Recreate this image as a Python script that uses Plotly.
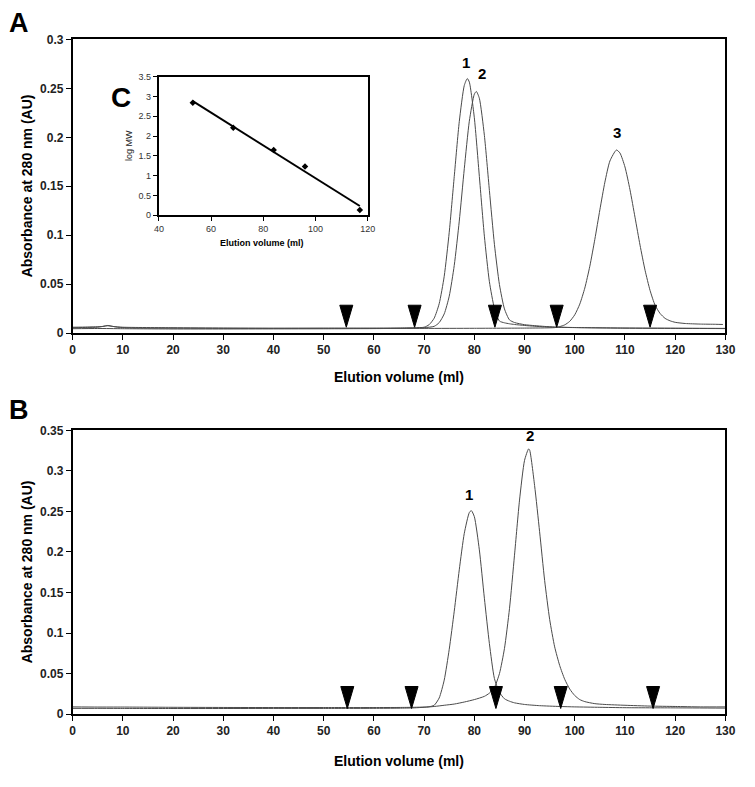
import numpy as np
import plotly.graph_objects as go

# ---------------- data ----------------
# Panel A chromatograms (elution volume in ml, absorbance in AU)
a1_x = [0, 3, 5, 7, 9, 12, 20, 30, 40, 50, 60, 65, 68, 70, 71, 72, 73, 74, 75, 76, 77, 78, 78.6, 79, 80, 81, 82, 83, 84, 85, 86, 87, 88, 90, 92, 94, 96, 100, 110, 120, 130]
a1_y = [0.0055, 0.0058, 0.006, 0.0075, 0.006, 0.0052, 0.005, 0.0048, 0.0048, 0.0049, 0.005, 0.0052, 0.0055, 0.006, 0.0086, 0.0152, 0.030, 0.058, 0.103, 0.160, 0.216, 0.253, 0.260, 0.2565, 0.220, 0.160, 0.099, 0.0525, 0.0253, 0.0123, 0.0105, 0.0095, 0.0088, 0.0078, 0.007, 0.0064, 0.006, 0.0056, 0.005, 0.0048, 0.0046]

a2_x = [0, 5, 10, 20, 30, 40, 50, 60, 65, 68, 70, 72, 73, 74, 75, 76, 77, 78, 79, 80, 80.4, 81, 82, 83, 84, 85, 86, 87, 88, 90, 92, 94, 96, 100, 110, 120, 130]
a2_y = [0.0045, 0.0047, 0.0045, 0.0042, 0.0042, 0.0043, 0.0044, 0.0046, 0.0048, 0.005, 0.0055, 0.0069, 0.0107, 0.0196, 0.0377, 0.0691, 0.1144, 0.1679, 0.2164, 0.2441, 0.2468, 0.2399, 0.202, 0.1457, 0.0907, 0.0495, 0.0247, 0.0135, 0.0108, 0.0086, 0.0076, 0.0068, 0.0062, 0.0057, 0.0052, 0.005, 0.0048]

a3_x = [0, 3, 6, 7, 8, 10, 20, 30, 40, 50, 60, 70, 80, 90, 94, 96, 97, 98, 99, 100, 101, 102, 103, 104, 105, 106, 107, 108.3, 109, 110, 111, 112, 113, 114, 115, 116, 117, 118, 119, 120, 122, 125, 128, 129.5]
a3_y = [0.006, 0.0062, 0.0068, 0.0078, 0.0068, 0.006, 0.0055, 0.0052, 0.005, 0.005, 0.0049, 0.0048, 0.0049, 0.0051, 0.0053, 0.0056, 0.0066, 0.0084, 0.012, 0.0187, 0.0296, 0.046, 0.0683, 0.0958, 0.1259, 0.1542, 0.1758, 0.187, 0.184, 0.1697, 0.1464, 0.1183, 0.0898, 0.0642, 0.0435, 0.0284, 0.020, 0.015, 0.0125, 0.011, 0.0098, 0.0092, 0.009, 0.0088]

# Panel B chromatograms
b1_x = [0, 5, 10, 20, 30, 40, 50, 60, 65, 68, 70, 71, 72, 73, 74, 75, 76, 77, 78, 79, 79.4, 80, 81, 82, 83, 84, 85, 86, 87, 88, 90, 93, 97, 100, 105, 110, 120, 130]
b1_y = [0.009, 0.0088, 0.0088, 0.0085, 0.0083, 0.0082, 0.0082, 0.0082, 0.0083, 0.0085, 0.0088, 0.0092, 0.011, 0.020, 0.042, 0.080, 0.127, 0.178, 0.223, 0.2486, 0.251, 0.2436, 0.2026, 0.143, 0.087, 0.044, 0.027, 0.019, 0.016, 0.014, 0.012, 0.0105, 0.0095, 0.009, 0.0085, 0.008, 0.0078, 0.0075]

b2_x = [0, 5, 10, 20, 30, 40, 50, 60, 65, 68, 70, 72, 74, 76, 78, 80, 82, 83, 84, 85, 86, 87, 88, 89, 90, 90.8, 91, 92, 93, 94, 95, 96, 97, 98, 99, 100, 101, 102, 104, 106, 110, 115, 120, 125, 130]
b2_y = [0.0072, 0.0072, 0.0071, 0.007, 0.007, 0.0071, 0.0071, 0.0072, 0.0074, 0.0078, 0.0085, 0.0095, 0.011, 0.0125, 0.015, 0.018, 0.022, 0.026, 0.033, 0.050, 0.081, 0.130, 0.196, 0.264, 0.313, 0.327, 0.326, 0.282, 0.225, 0.165, 0.117, 0.083, 0.060, 0.043, 0.031, 0.023, 0.018, 0.0155, 0.013, 0.012, 0.011, 0.010, 0.0095, 0.009, 0.009]

# Calibration markers (arrowheads)
a_marker_x = [54.5, 68.1, 84.1, 96.4, 115.0]
a_marker_y = [0.006, 0.006, 0.006, 0.006, 0.006]
b_marker_x = [54.7, 67.5, 84.3, 97.2, 115.6]
b_marker_y = [0.007, 0.007, 0.007, 0.007, 0.007]

# Peak labels
a_peak_labels = ["1", "2", "3"]
a_peak_x = [78.4, 81.5, 108.4]
a_peak_y = [0.2765, 0.2655, 0.205]
b_peak_labels = ["1", "2"]
b_peak_x = [78.9, 91.0]
b_peak_y = [0.271, 0.344]

# Inset C: calibration curve
c_x = [53, 68.5, 84, 96, 117]
c_y = [2.84, 2.21, 1.65, 1.23, 0.13]

# ---------------- figure ----------------
W, H = 755, 787
def px_x(p):
    return p / W
def px_y(p):
    return 1 - p / H

FONT = "Liberation Sans, Arial, sans-serif"
line_col = "#4a4a4a"

fig = go.Figure()
for xs, ys in [(a1_x, a1_y), (a2_x, a2_y), (a3_x, a3_y)]:
    fig.add_trace(go.Scatter(x=xs, y=ys, mode="lines", xaxis="x", yaxis="y",
                             line=dict(color=line_col, width=1, shape="spline", smoothing=0.6),
                             showlegend=False, hoverinfo="skip"))
for xs, ys in [(b1_x, b1_y), (b2_x, b2_y)]:
    fig.add_trace(go.Scatter(x=xs, y=ys, mode="lines", xaxis="x2", yaxis="y2",
                             line=dict(color=line_col, width=1, shape="spline", smoothing=0.6),
                             showlegend=False, hoverinfo="skip"))

# inset points and regression line
coef = np.polyfit(c_x, c_y, 1)
fit_x = [min(c_x), max(c_x)]
fit_y = list(np.polyval(coef, fit_x))
fig.add_trace(go.Scatter(x=fit_x, y=fit_y, mode="lines", xaxis="x3", yaxis="y3",
                         line=dict(color="black", width=2), showlegend=False, hoverinfo="skip"))
fig.add_trace(go.Scatter(x=c_x, y=c_y, mode="markers", xaxis="x3", yaxis="y3",
                         marker=dict(symbol="diamond", size=5, color="black"),
                         showlegend=False, hoverinfo="skip"))

shapes = []
for xs, ys, xr, yr in [(a_marker_x, a_marker_y, "x", "y"), (b_marker_x, b_marker_y, "x2", "y2")]:
    for mx, my in zip(xs, ys):
        shapes.append(dict(type="path", xref=xr, yref=yr, xsizemode="pixel", ysizemode="pixel",
                           xanchor=mx, yanchor=my, path="M-6.5,22 L6.5,22 L0,0 Z",
                           fillcolor="black", line=dict(color="black", width=1)))

annotations = []
for t, x, y in zip(a_peak_labels, a_peak_x, a_peak_y):
    annotations.append(dict(text=t, x=x, y=y, xref="x", yref="y", showarrow=False,
                            font=dict(family=FONT, size=15, color="black", weight="bold")))
for t, x, y in zip(b_peak_labels, b_peak_x, b_peak_y):
    annotations.append(dict(text=t, x=x, y=y, xref="x2", yref="y2", showarrow=False,
                            font=dict(family=FONT, size=15, color="black", weight="bold")))

# panel letters
for t, px, py, sz in [("A", 14, 16, 27), ("B", 14, 410, 27), ("C", 118, 92, 28)]:
    annotations.append(dict(text=t, x=px_x(px), y=px_y(py), xref="paper", yref="paper",
                            showarrow=False, xanchor="center", yanchor="middle",
                            font=dict(family=FONT, size=sz, color="black", weight="bold")))

# axis titles
title_font = dict(family=FONT, size=14, color="black", weight="bold")
annotations += [
    dict(text="Elution volume (ml)", x=px_x(402), y=px_y(377), xref="paper", yref="paper",
         showarrow=False, xanchor="center", yanchor="middle", font=title_font),
    dict(text="Elution volume (ml)", x=px_x(402), y=px_y(768), xref="paper", yref="paper",
         showarrow=False, xanchor="center", yanchor="middle", font=title_font),
    dict(text="Absorbance at 280 nm (AU)", x=px_x(22), y=px_y(182), xref="paper", yref="paper",
         showarrow=False, xanchor="center", yanchor="middle", textangle=-90, font=title_font),
    dict(text="Absorbance at 280 nm (AU)", x=px_x(22), y=px_y(575), xref="paper", yref="paper",
         showarrow=False, xanchor="center", yanchor="middle", textangle=-90, font=title_font),
    dict(text="Elution volume (ml)", x=px_x(262), y=px_y(240), xref="paper", yref="paper",
         showarrow=False, xanchor="center", yanchor="middle",
         font=dict(family=FONT, size=9, color="black", weight="bold")),
    dict(text="log MW", x=px_x(127), y=px_y(141), xref="paper", yref="paper",
         showarrow=False, xanchor="center", yanchor="middle", textangle=-90,
         font=dict(family=FONT, size=9, color="#222")),
]

tick_font = dict(family=FONT, size=12, color="#222", weight="bold")
main_ax = dict(showgrid=False, zeroline=False, showline=True, linecolor="black", linewidth=1.5,
               mirror=True, ticks="outside", ticklen=5, tickcolor="black", tickwidth=1,
               tickfont=tick_font)
x_dom = [px_x(69), px_x(735)]

fig.update_layout(
    width=W, height=H, margin=dict(l=0, r=0, t=0, b=0),
    paper_bgcolor="white", plot_bgcolor="white",
    xaxis=dict(main_ax, domain=x_dom, range=[0, 130], dtick=10, tick0=0, anchor="y"),
    yaxis=dict(main_ax, domain=[px_y(332), px_y(33)], range=[0, 0.3], dtick=0.05, anchor="x"),
    xaxis2=dict(main_ax, domain=x_dom, range=[0, 130], dtick=10, tick0=0, anchor="y2"),
    yaxis2=dict(main_ax, domain=[px_y(720), px_y(431)], range=[0, 0.35], dtick=0.05, anchor="x2"),
    xaxis3=dict(showgrid=False, zeroline=False, showline=True, linecolor="black", linewidth=2,
                mirror=True, ticks="outside", ticklen=4, tickcolor="black",
                domain=[px_x(157), px_x(370)], range=[40, 120], dtick=20, anchor="y3",
                tickfont=dict(family=FONT, size=9, color="#333")),
    yaxis3=dict(showgrid=False, zeroline=False, showline=True, linecolor="black", linewidth=2,
                mirror=True, ticks="outside", ticklen=4, tickcolor="black",
                domain=[px_y(212), px_y(71)], range=[0, 3.5], dtick=0.5, anchor="x3",
                tickfont=dict(family=FONT, size=9, color="#333")),
    shapes=shapes,
    annotations=annotations,
)

fig.write_html("out.html", config={"displayModeBar": False},
               post_script="document.body.style.margin='0';document.body.style.overflow='hidden';")
